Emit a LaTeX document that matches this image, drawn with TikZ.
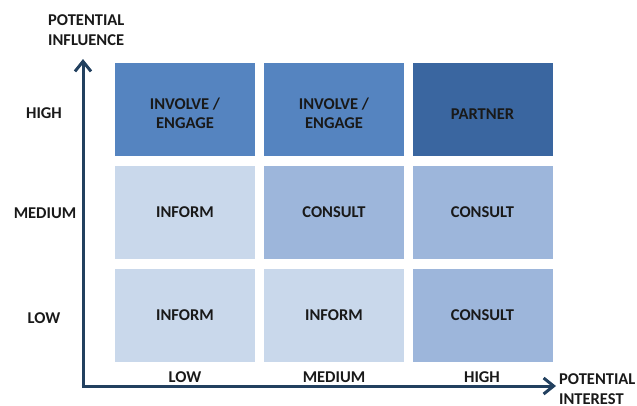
\documentclass[tikz,border=0pt]{standalone}
\usepackage{fontspec}
\setmainfont{Carlito}
\usetikzlibrary{arrows.meta}
\definecolor{cdark}{HTML}{3A66A0}
\definecolor{cmid}{HTML}{5584C0}
\definecolor{clight}{HTML}{C9D8EB}
\definecolor{cconsult}{HTML}{9DB6DB}
\definecolor{caxis}{HTML}{22405F}
\newcommand{\lowerstrut}{\rule{0pt}{20pt}}
\tikzset{
  cell/.style={minimum width=141pt, minimum height=94pt, inner sep=0pt, align=center, font=\bfseries\fontsize{16.5}{19.5}\selectfont, text=black!90, draw=white, line width=0.6pt},
  lab/.style={font=\bfseries\fontsize{16.5}{19.5}\selectfont, text=black!90, inner sep=0pt, align=left},
  axis/.style={draw=caxis, line width=3pt, -{Straight Barb[length=10pt,width=16pt,line width=3pt]}}
}
\begin{document}
\begin{tikzpicture}[x=1pt,y=-1pt]
\useasboundingbox (0,0) rectangle (637,405);
% row 1
\node[cell, fill=cmid] (c11) at (185,109) {\lowerstrut INVOLVE /\\ENGAGE};
\node[cell, fill=cmid] (c12) at (334,109) {\lowerstrut INVOLVE /\\ENGAGE};
\node[cell, fill=cdark] (c13) at (482.5,109) {\lowerstrut PARTNER};
% row 2
\node[cell, fill=clight] (c21) at (185,212) {INFORM};
\node[cell, fill=cconsult] (c22) at (334,212) {CONSULT};
\node[cell, fill=cconsult] (c23) at (482.5,212) {CONSULT};
% row 3
\node[cell, fill=clight] (c31) at (185,315) {INFORM};
\node[cell, fill=clight] (c32) at (334,315) {INFORM};
\node[cell, fill=cconsult] (c33) at (482.5,315) {CONSULT};
% axes
\coordinate (o) at (83,386);
\coordinate (ytip) at (83,59);
\coordinate (xtip) at (556,386);
\draw[axis] (83,387.5) -- (ytip);
\draw[axis] (81.5,386) -- (xtip);
% row labels
\node[lab] (rh) at (44,113) {HIGH};
\node[lab] (rm) at (45,213) {MEDIUM};
\node[lab] (rl) at (44,318) {LOW};
% column labels
\node[lab] (cl) at (185,377) {LOW};
\node[lab] (cm) at (334,377) {MEDIUM};
\node[lab] (ch) at (482,377) {HIGH};
% axis titles
\node[lab, anchor=west] (yt) at (48,30) {POTENTIAL\\INFLUENCE};
\node[lab, anchor=west] (xt) at (559,389) {POTENTIAL\\INTEREST};
\end{tikzpicture}
\end{document}
